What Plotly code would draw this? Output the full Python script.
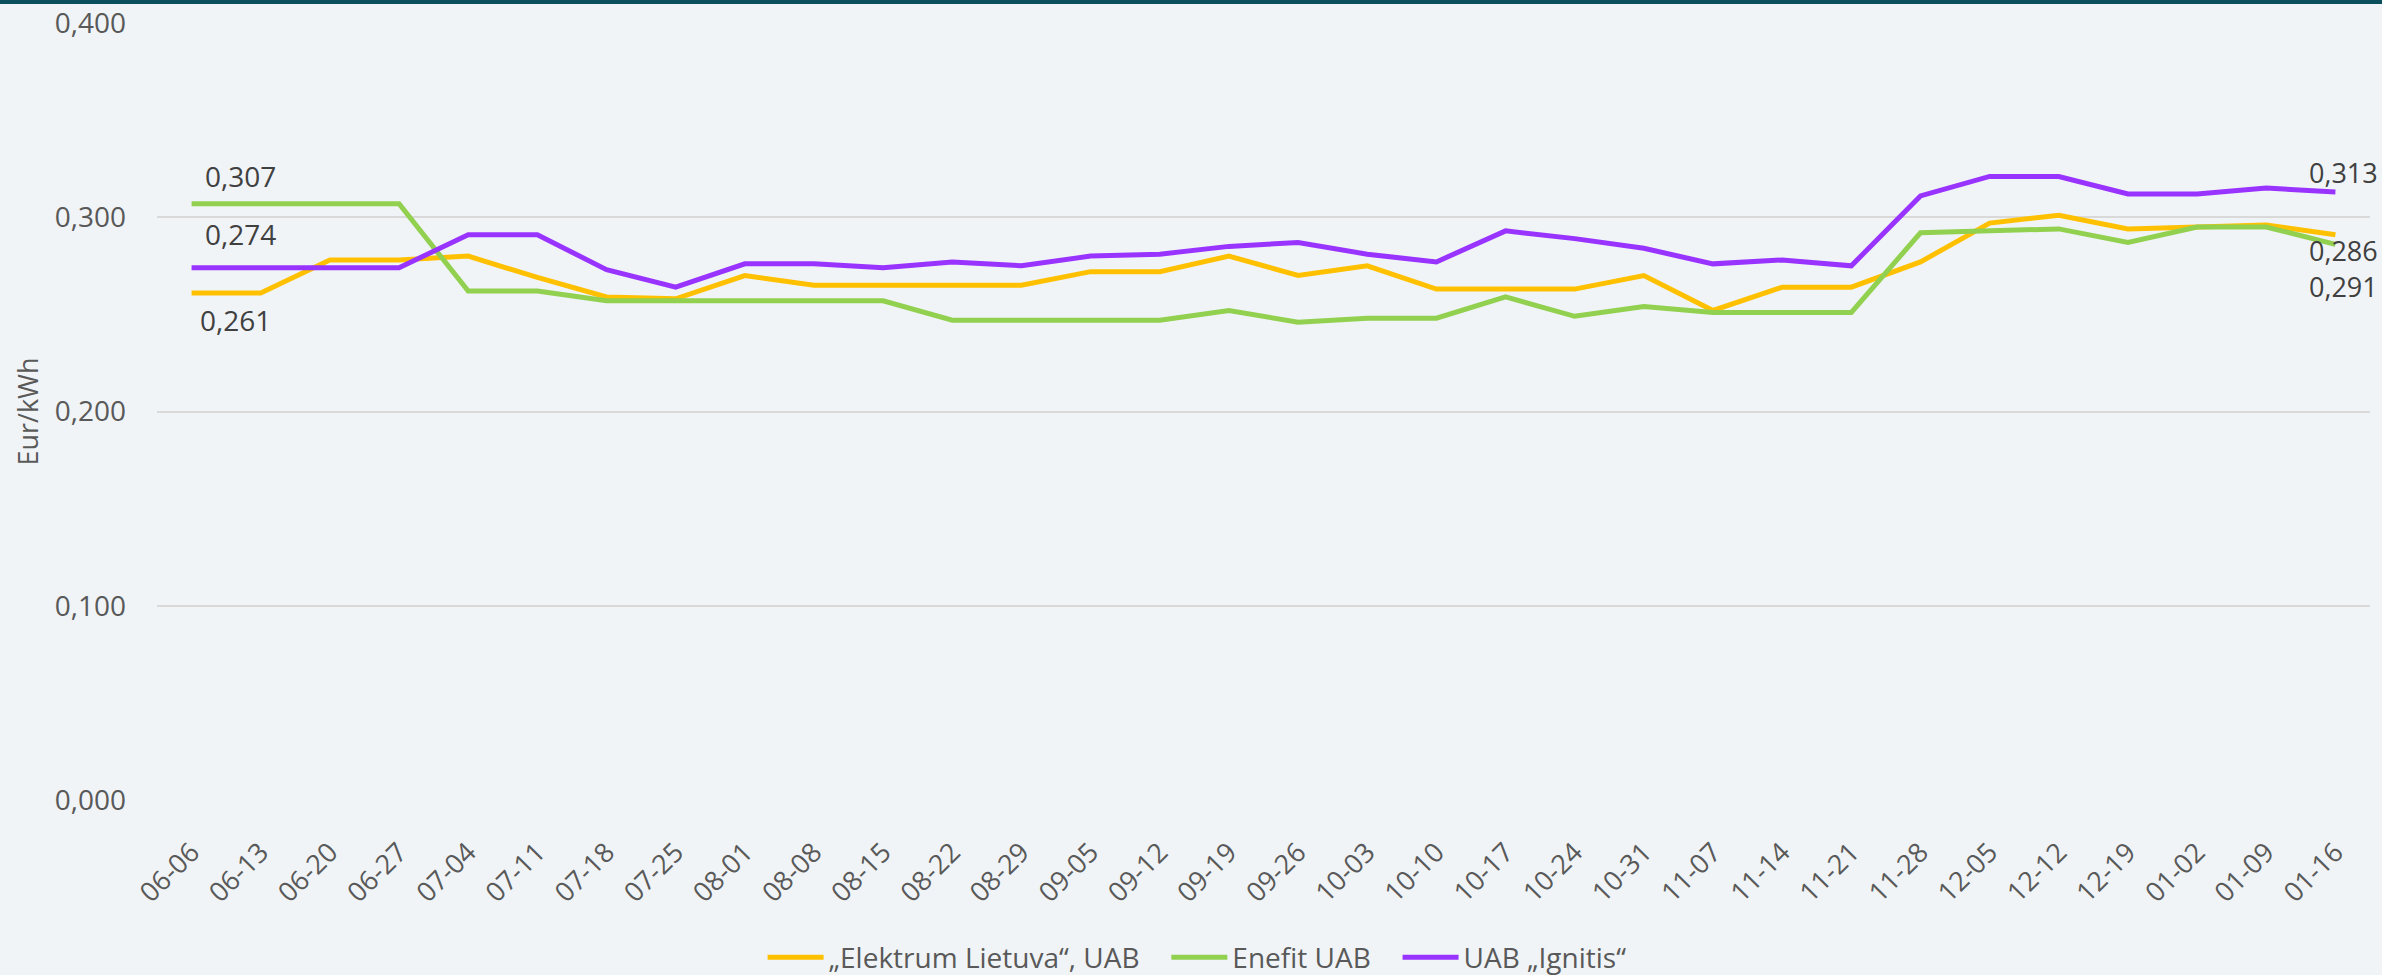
import plotly.graph_objects as go

categories = ["06-06","06-13","06-20","06-27","07-04","07-11","07-18","07-25","08-01","08-08",
              "08-15","08-22","08-29","09-05","09-12","09-19","09-26","10-03","10-10","10-17",
              "10-24","10-31","11-07","11-14","11-21","11-28","12-05","12-12","12-19","01-02",
              "01-09","01-16"]

elektrum = [0.261,0.261,0.278,0.278,0.280,0.269,0.259,0.258,0.270,0.265,
            0.265,0.265,0.265,0.272,0.272,0.280,0.270,0.275,0.263,0.263,
            0.263,0.270,0.252,0.264,0.264,0.277,0.297,0.301,0.294,0.295,
            0.296,0.291]
enefit = [0.307,0.307,0.307,0.307,0.262,0.262,0.257,0.257,0.257,0.257,
          0.257,0.247,0.247,0.247,0.247,0.252,0.246,0.248,0.248,0.259,
          0.249,0.254,0.251,0.251,0.251,0.292,0.293,0.294,0.287,0.295,
          0.295,0.286]
ignitis = [0.274,0.274,0.274,0.274,0.291,0.291,0.273,0.264,0.276,0.276,
           0.274,0.277,0.275,0.280,0.281,0.285,0.287,0.281,0.277,0.293,
           0.289,0.284,0.276,0.278,0.275,0.311,0.321,0.321,0.312,0.312,
           0.315,0.313]

names = ["„Elektrum Lietuva“, UAB", "Enefit UAB", "UAB „Ignitis“"]
colors = ["#FFC000", "#92D050", "#9933FF"]
series = [elektrum, enefit, ignitis]

FONT = "Open Sans"
GAP = "\u00a0" * 3
fig = go.Figure()
for i, (n, c, s) in enumerate(zip(names, colors, series)):
    label = n + (GAP if i < len(names) - 1 else "")
    fig.add_trace(go.Scatter(x=categories, y=s, name=label, mode="lines",
                             line=dict(color=c, width=5)))

def fmt(v):
    return f"{v:.3f}".replace(".", ",")

start_offsets = [(6, -27), (11, 28), (11, 34)]
end_offsets = [(-28, -52), (-28, -6), (-28, 20)]
for s, (dx, dy) in zip(series, start_offsets):
    fig.add_annotation(x=categories[0], y=s[0], text=fmt(s[0]), showarrow=False,
                       xanchor="left", yanchor="middle", xshift=dx, yshift=dy,
                       font=dict(family=FONT, size=28, color="#404040"))
for s, (dx, dy) in zip(series, end_offsets):
    fig.add_annotation(x=categories[-1], y=s[-1], text=fmt(s[-1]), showarrow=False,
                       xanchor="left", yanchor="middle", xshift=dx, yshift=dy,
                       font=dict(family=FONT, size=27, color="#404040"))

fig.add_shape(type="rect", xref="paper", yref="paper", x0=-1, x1=2, y0=1.0245, y1=1.06,
              fillcolor="#0B4F5C", line=dict(width=0), layer="above")

fig.update_layout(
    width=2382, height=975,
    margin=dict(l=157, r=12, t=23, b=175, autoexpand=False),
    paper_bgcolor="#F0F4F7", plot_bgcolor="#F0F4F7",
    separators=",.",
    font=dict(family=FONT, size=28, color="#595959"),
    showlegend=True,
    legend=dict(orientation="h", x=0.470, xanchor="center", yref="container",
                y=0.018, yanchor="middle", itemwidth=56,
                font=dict(family=FONT, size=28, color="#595959"),
                bgcolor="rgba(0,0,0,0)", tracegroupgap=0),
    xaxis=dict(type="category", range=[-0.5, 31.5], tickangle=-45, showgrid=False,
               zeroline=False, showline=False, ticks="", ticklabelstandoff=30,
               automargin=False,
               tickfont=dict(family=FONT, size=27, color="#595959")),
    yaxis=dict(range=[0, 0.4], dtick=0.1, tickformat=".3f", showgrid=True,
               gridcolor="#D9D9D9", gridwidth=1.5, zeroline=False, showline=False,
               ticks="", ticklen=0, ticklabelstandoff=30, automargin=False,
               tickfont=dict(family=FONT, size=28, color="#595959"),
               title=dict(text="Eur/kWh", font=dict(family=FONT, size=27, color="#595959"),
                          standoff=8)),
)

fig.write_html("out.html", config={"displayModeBar": False},
               post_script="document.body.style.margin='0';document.body.style.overflow='hidden';")
